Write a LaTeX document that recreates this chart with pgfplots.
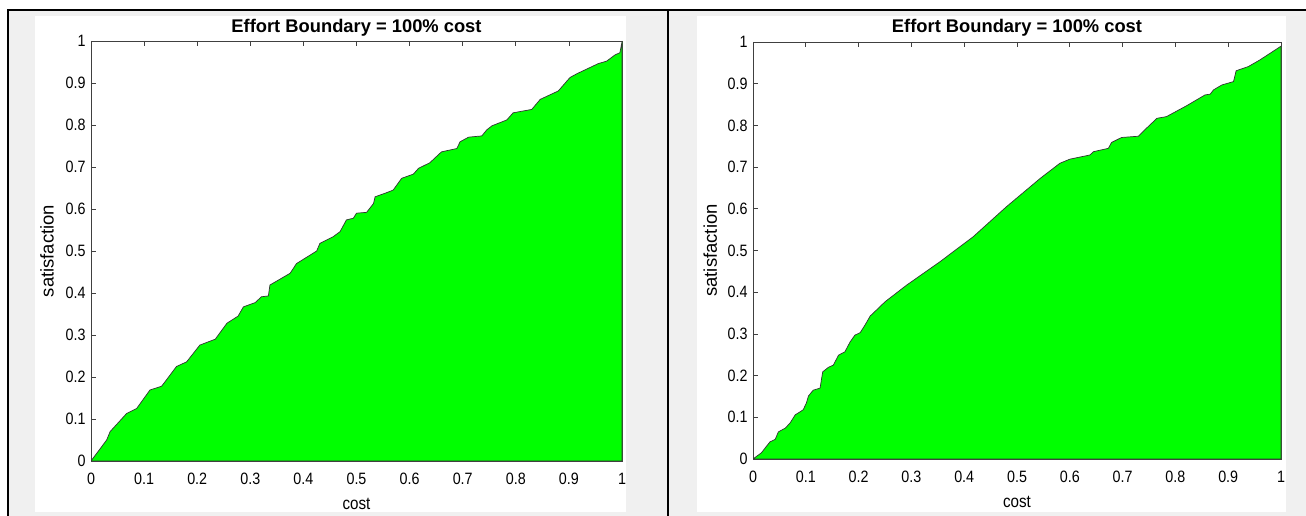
\documentclass[border=0pt]{standalone}
\usepackage{pgfplots}
\pgfplotsset{compat=1.18}
\usepackage{fontspec}
\setmainfont{Liberation Sans}
\newfontfamily\narrowfont[FakeStretch=0.87]{Liberation Sans}
\definecolor{figgray}{HTML}{F0F0F0}
\definecolor{mgreen}{HTML}{00FF00}
\pgfplotsset{
  mlab/.style={
    scale only axis,
    xmin=0,xmax=1,ymin=0,ymax=1,
    xtick={0,0.1,0.2,0.3,0.4,0.5,0.6,0.7,0.8,0.9,1},
    ytick={0,0.1,0.2,0.3,0.4,0.5,0.6,0.7,0.8,0.9,1},
    tick align=inside,
    major tick length=5bp,
    axis line style={draw=black!75, line width=0.7bp},
    every tick/.style={black!75, line width=0.7bp},
    /pgf/number format/assume math mode=true,
    ticklabel style={font=\narrowfont\fontsize{16.5}{16}\selectfont, text=black},
    xticklabel style={yshift=-9bp},
    yticklabel style={xshift=-2bp},
    every axis title shift=0pt,
    title={\textbf{Effort Boundary = 100\% cost}},
    xlabel={\narrowfont cost}, ylabel={satisfaction},
    xlabel style={font=\fontsize{17.5}{17}\selectfont, at={(axis description cs:0.5,-0.103)}, anchor=center},
    axis background/.style={fill=white},
  }
}
\begin{document}
\begin{tikzpicture}[x=1bp,y=1bp]
\useasboundingbox (0,0) rectangle (1306,516);
\fill[white] (0,0) rectangle (1306,516);
\fill[figgray] (8,0) rectangle (1306,506);
\fill[white] (35,4) rectangle (626,500);
\fill[white] (697,4) rectangle (1286,500);
\draw[black, line width=2.2bp] (8,0) -- (8,506) -- (1306,506);
\draw[black, line width=2.2bp] (668,0) -- (668,506);

\begin{axis}[mlab, at={(91bp,55bp)}, anchor=south west, width=531bp, height=420bp,
  title style={font=\fontsize{18.4}{18}\selectfont, at={(axis description cs:0.5,1.031)}, anchor=center},
  ylabel style={font=\fontsize{18.5}{18}\selectfont, at={(axis description cs:-0.083,0.5)}, anchor=center}]
\addplot[fill=mgreen, draw=black!80, line width=0.7bp] coordinates {
(0,0) (0.0295,0.05) (0.036,0.07) (0.067,0.113) (0.086,0.125) (0.111,0.169)
(0.133,0.178) (0.161,0.225) (0.18,0.236) (0.205,0.276) (0.234,0.29)
(0.256,0.328) (0.277,0.345) (0.287,0.367) (0.309,0.377) (0.321,0.391)
(0.334,0.393) (0.337,0.419) (0.375,0.447) (0.387,0.47) (0.425,0.5)
(0.431,0.518) (0.456,0.534) (0.469,0.546) (0.481,0.574) (0.494,0.578)
(0.5,0.59) (0.519,0.592) (0.532,0.613) (0.535,0.629) (0.557,0.639)
(0.569,0.645) (0.585,0.673) (0.607,0.683) (0.617,0.697) (0.638,0.71)
(0.66,0.736) (0.689,0.744) (0.695,0.76) (0.711,0.771) (0.736,0.774)
(0.745,0.788) (0.755,0.798) (0.783,0.812) (0.795,0.829) (0.83,0.837)
(0.846,0.861) (0.88,0.881) (0.902,0.913) (0.915,0.922) (0.955,0.946)
(0.971,0.952) (0.987,0.967) (0.996,0.972) (1,0.998) (1,0)
} \closedcycle;
\end{axis}

\begin{axis}[mlab, at={(753bp,57bp)}, anchor=south west, width=528bp, height=417bp,
  title style={font=\fontsize{18.4}{18}\selectfont, at={(axis description cs:0.5,1.034)}, anchor=center},
  ylabel style={font=\fontsize{18.5}{18}\selectfont, at={(axis description cs:-0.081,0.5)}, anchor=center}]
\addplot[fill=mgreen, draw=black!80, line width=0.7bp] coordinates {
(0,0) (0.016,0.015) (0.032,0.041) (0.042,0.047) (0.048,0.065) (0.061,0.074)
(0.07,0.086) (0.08,0.106) (0.089,0.113) (0.095,0.118) (0.101,0.134)
(0.105,0.151) (0.114,0.165) (0.127,0.17) (0.132,0.209) (0.143,0.22)
(0.152,0.225) (0.162,0.249) (0.174,0.257) (0.184,0.281) (0.193,0.297)
(0.203,0.303) (0.212,0.321) (0.222,0.343) (0.237,0.361) (0.25,0.377)
(0.291,0.417) (0.354,0.473) (0.417,0.533) (0.48,0.605) (0.544,0.673)
(0.581,0.709) (0.6,0.719) (0.638,0.729) (0.645,0.737) (0.673,0.745)
(0.679,0.759) (0.698,0.771) (0.73,0.774) (0.745,0.793) (0.765,0.817)
(0.783,0.821) (0.821,0.847) (0.856,0.873) (0.866,0.875) (0.872,0.885)
(0.888,0.897) (0.91,0.905) (0.915,0.931) (0.938,0.941) (0.96,0.957)
(1,0.99) (1,0)
} \closedcycle;
\end{axis}
\end{tikzpicture}
\end{document}
